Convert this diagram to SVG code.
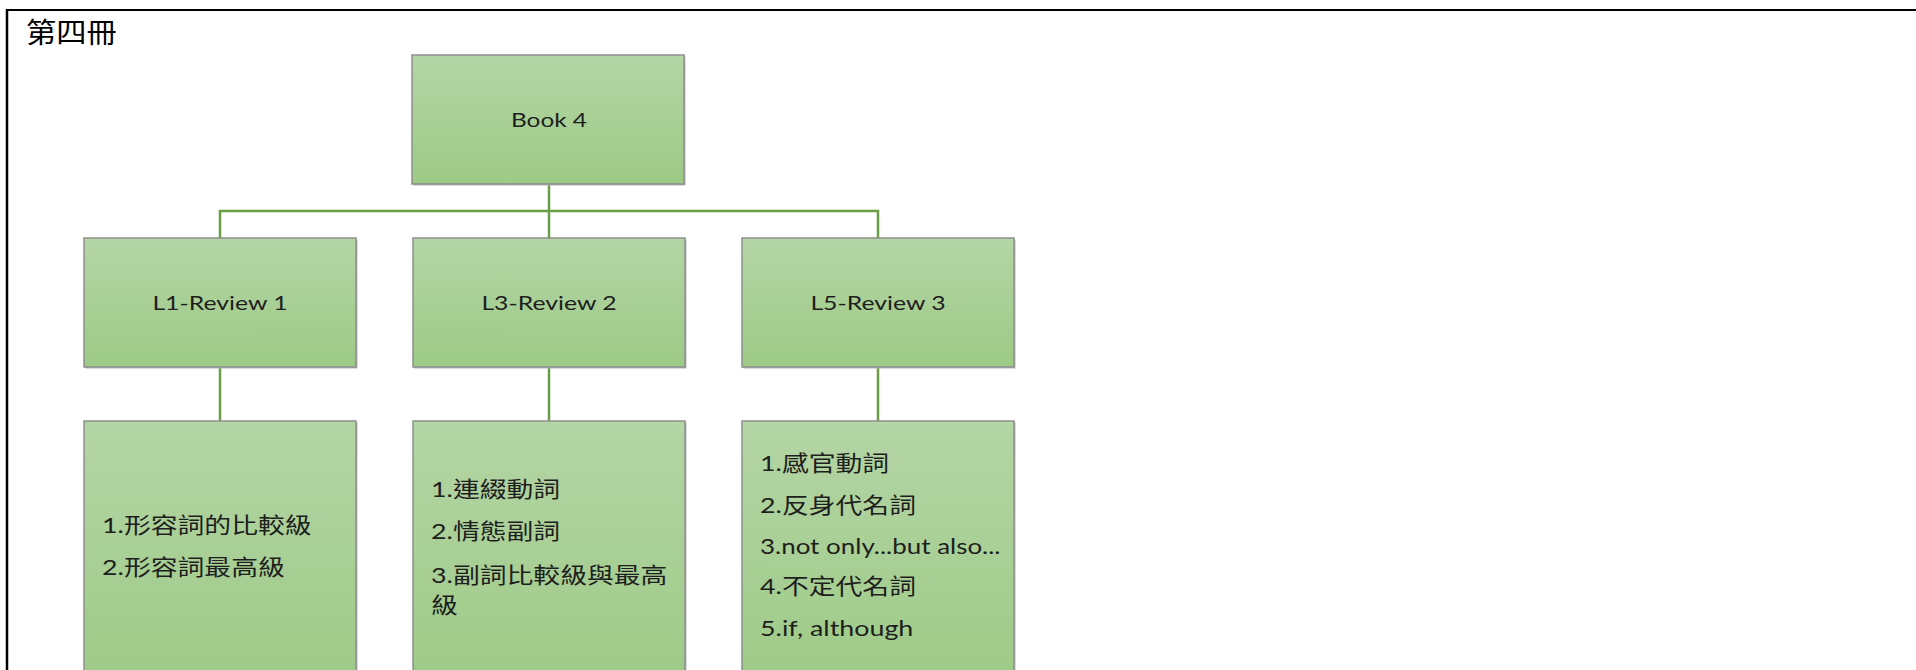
<svg xmlns="http://www.w3.org/2000/svg" width="1916" height="670" viewBox="0 0 1916 670">
<style>
.box{fill:url(#g);stroke:#8e8e8e;stroke-width:1.5}
.sh{fill:#b8b8b8}
.lbl{font-family:Lato,"Noto Sans CJK TC",sans-serif;font-size:20px;fill:#1e1e1e;text-anchor:middle}
.it{font-family:Lato,"Noto Sans CJK TC",sans-serif;font-size:22px;fill:#1e1e1e}
.con{fill:none;stroke:#6a9d45;stroke-width:2.5}
.title{font-family:"Noto Sans CJK TC",sans-serif;font-size:28px;fill:#000}
</style>
<defs>
<linearGradient id="g" x1="0" y1="0" x2="0" y2="1">
<stop offset="0" stop-color="#b4d5a5"/>
<stop offset="1" stop-color="#9dca86"/>
</linearGradient>
</defs>
<rect width="1916" height="670" fill="#fff"/>
<g id="frame">
<line x1="7" y1="10" x2="1916" y2="10" stroke="#000" stroke-width="2.2"/>
<line x1="7" y1="9" x2="7" y2="670" stroke="#000" stroke-width="2.5"/>
<text class="title" transform="translate(26 43) scale(1.08 1)">第四冊</text>
</g>
<g id="connectors">
<path class="con" d="M549 184V238M220 238V211H878V238"/>
<path class="con" d="M220 367V421M549 367V421M878 367V421"/>
</g>
<g id="book4">
<rect class="sh" x="413.5" y="56.5" width="272" height="129"/>
<rect class="box" x="412" y="55" width="272" height="129"/>
<text class="lbl" transform="translate(549 127) scale(1.22 1)">Book 4</text>
</g>
<g id="l1">
<rect class="sh" x="85.5" y="239.5" width="272" height="129"/>
<rect class="box" x="84" y="238" width="272" height="129"/>
<text class="lbl" transform="translate(220 310) scale(1.24 1)">L1-Review 1</text>
</g>
<g id="l3">
<rect class="sh" x="414.5" y="239.5" width="272" height="129"/>
<rect class="box" x="413" y="238" width="272" height="129"/>
<text class="lbl" transform="translate(549 310) scale(1.24 1)">L3-Review 2</text>
</g>
<g id="l5">
<rect class="sh" x="743.5" y="239.5" width="272" height="129"/>
<rect class="box" x="742" y="238" width="272" height="129"/>
<text class="lbl" transform="translate(878 310) scale(1.24 1)">L5-Review 3</text>
</g>
<g id="l1-items">
<rect class="sh" x="85.5" y="422.5" width="272" height="270"/>
<rect class="box" x="84" y="421" width="272" height="270"/>
<text class="it" transform="translate(102 533) scale(1.22 1)">1.形容詞的比較級</text>
<text class="it" transform="translate(102 575) scale(1.22 1)">2.形容詞最高級</text>
</g>
<g id="l3-items">
<rect class="sh" x="414.5" y="422.5" width="272" height="270"/>
<rect class="box" x="413" y="421" width="272" height="270"/>
<text class="it" transform="translate(431 497) scale(1.22 1)">1.連綴動詞</text>
<text class="it" transform="translate(431 539) scale(1.22 1)">2.情態副詞</text>
<text class="it" transform="translate(431 583) scale(1.22 1)">3.副詞比較級與最高</text>
<text class="it" transform="translate(431 613) scale(1.22 1)">級</text>
</g>
<g id="l5-items">
<rect class="sh" x="743.5" y="422.5" width="272" height="270"/>
<rect class="box" x="742" y="421" width="272" height="270"/>
<text class="it" transform="translate(760 471) scale(1.22 1)">1.感官動詞</text>
<text class="it" transform="translate(760 513) scale(1.22 1)">2.反身代名詞</text>
<text class="it" transform="translate(760 554) scale(1.18 1)">3.not only...but also...</text>
<text class="it" transform="translate(760 594) scale(1.22 1)">4.不定代名詞</text>
<text class="it" transform="translate(760 636) scale(1.22 1)">5.if, although</text>
</g>
</svg>
